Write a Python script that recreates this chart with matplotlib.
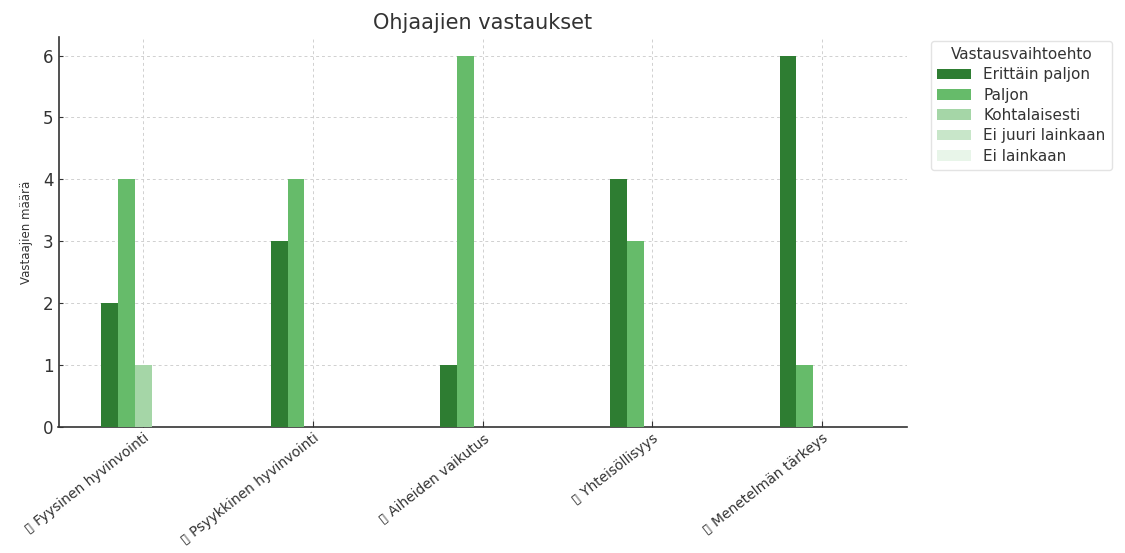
import numpy as np
import matplotlib
matplotlib.use("Agg")
from matplotlib import pyplot as plt

# ---------------- data ----------------
categories = ["\u25af Fyysinen hyvinvointi", "\u25af Psyykkinen hyvinvointi",
              "\u25af Aiheiden vaikutus", "\u25af Yhteisöllisyys",
              "\u25af Menetelmän tärkeys"]
options = ["Erittäin paljon", "Paljon", "Kohtalaisesti", "Ei juuri lainkaan", "Ei lainkaan"]
erittain = [2, 3, 1, 4, 6]
paljon = [4, 4, 6, 3, 1]
kohtalaisesti = [1, 0, 0, 0, 0]
ei_juuri = [0, 0, 0, 0, 0]
ei_lainkaan = [0, 0, 0, 0, 0]
colors = ["#2e7d32", "#66bb6a", "#a5d6a7", "#c8e6c9", "#e8f5e9"]

series = [erittain, paljon, kohtalaisesti, ei_juuri, ei_lainkaan]

fig = plt.figure(figsize=(11.25, 5.53), dpi=100)
ax = fig.add_axes([0.052, 0.228, 0.754, 0.705])

x = np.arange(len(categories))
w = 0.1
for i, (vals, lab, col) in enumerate(zip(series, options, colors)):
    ax.bar(x + (i - 2) * w, vals, width=w, color=col, label=lab, zorder=3)

ax.set_xlim(-0.5, 4.5)
ax.set_ylim(0, 6.3)
ax.set_xticks(x)
ax.set_xticklabels(categories, rotation=38, ha="right", rotation_mode="anchor",
                   fontsize=10, color="#333333")
ax.set_yticks(range(0, 7))
ax.tick_params(axis="y", labelsize=12, direction="in", length=3, colors="#333333")
ax.tick_params(axis="x", direction="in", length=4, colors="#333333", pad=3)
ax.set_ylabel("Vastaajien määrä", fontsize=8.5, color="#333333", labelpad=7)
ax.set_title("Ohjaajien vastaukset", fontsize=15, color="#333333")
ax.grid(True, linestyle=(0, (3, 3)), color="#d0d0d0", linewidth=0.7, zorder=0)
for s in ["top", "right"]:
    ax.spines[s].set_visible(False)
for s in ["left", "bottom"]:
    ax.spines[s].set_color("#333333")
    ax.spines[s].set_linewidth(1.2)

leg = ax.legend(title="Vastausvaihtoehto", loc="upper left", bbox_to_anchor=(1.02, 1.01),
                fontsize=11, title_fontsize=11, frameon=True, edgecolor="#dddddd",
                labelspacing=0.35, handlelength=2.2)
for t in leg.get_texts():
    t.set_color("#333333")
leg.get_title().set_color("#333333")

fig.savefig("out.png", dpi=100)
